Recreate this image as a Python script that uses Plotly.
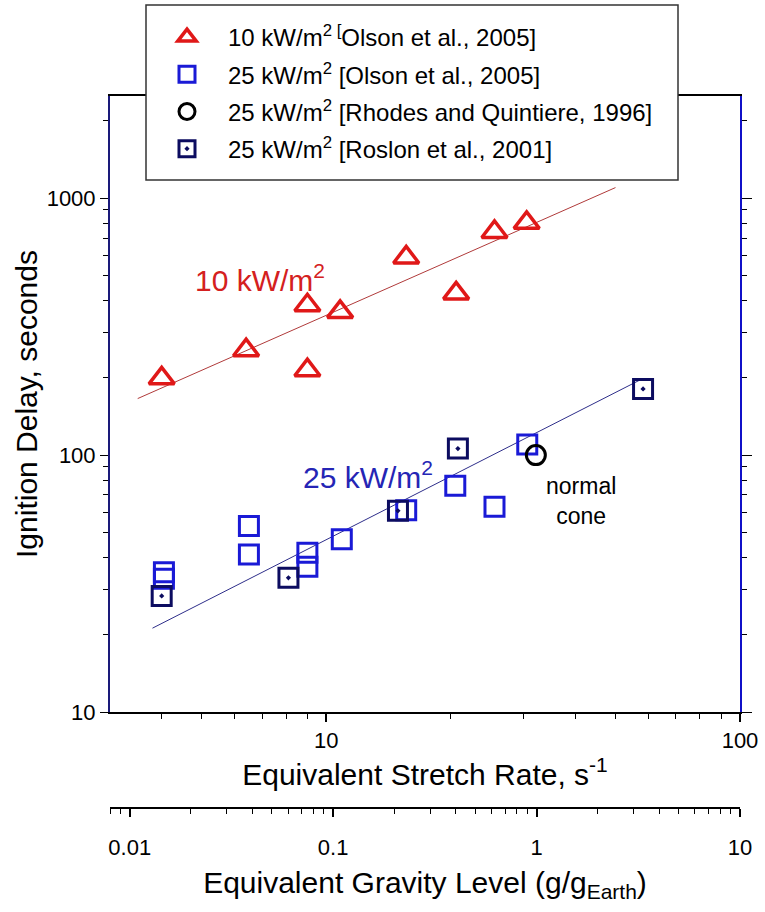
import numpy as np
import plotly.graph_objects as go

# ---------------- data ----------------
# 10 kW/m2 [Olson et al., 2005]
olson10_rate = [4.0, 6.4, 9.0, 9.0, 10.8, 15.6, 20.6, 25.5, 30.5]
olson10_delay = [199, 256, 383, 214, 361, 588, 426, 739, 802]

# 25 kW/m2 [Olson et al., 2005]
olson25_rate = [4.05, 4.05, 6.5, 6.5, 9.0, 9.0, 10.9, 15.6, 20.5, 25.5, 30.6]
olson25_delay = [35, 33, 53, 41, 41.7, 36.8, 47, 61, 76, 63, 110]

# 25 kW/m2 [Rhodes and Quintiere, 1996]
rhodes_rate = [32.1]
rhodes_delay = [100]

# 25 kW/m2 [Roslon et al., 2001]
roslon_rate = [4.0, 8.1, 14.9, 20.8, 58.3]
roslon_delay = [28.3, 33.3, 60.7, 106, 181]

# power-law fit lines (end points)
fit10_rate = [3.5, 50.0]
fit10_delay = [166, 1100]
fit25_rate = [3.8, 58.0]
fit25_delay = [21.2, 198]

# axis ticks
rate_ticks = [10, 100]
rate_minor = [4, 5, 6, 7, 8, 9, 20, 30, 40, 50, 60, 70, 80, 90]
delay_ticks = [10, 100, 1000]
delay_minor = [20, 30, 40, 50, 60, 70, 80, 90, 200, 300, 400, 500, 600, 700, 800, 900, 2000]
grav_ticks = [0.01, 0.1, 1, 10]
grav_labels = ["0.01", "0.1", "1", "10"]
grav_minor = [0.008, 0.009, 0.02, 0.03, 0.04, 0.05, 0.06, 0.07, 0.08, 0.09,
              0.2, 0.3, 0.4, 0.5, 0.6, 0.7, 0.8, 0.9, 2, 3, 4, 5, 6, 7, 8, 9]

rate_range = [3, 100]
delay_range = [10, 2500]
grav_range = [0.008, 10]

FONT = "Arial, Liberation Sans, sans-serif"
RED = "#e01818"
BLUE = "#1a1ad6"
NAVY = "#0c0c60"

fig = go.Figure()

fig.add_trace(go.Scatter(x=fit10_rate, y=fit10_delay, mode="lines",
                         line=dict(color="#b03a3a", width=1),
                         showlegend=False, hoverinfo="skip"))
fig.add_trace(go.Scatter(x=fit25_rate, y=fit25_delay, mode="lines",
                         line=dict(color="#2e2e8a", width=1),
                         showlegend=False, hoverinfo="skip"))

fig.add_trace(go.Scatter(
    x=olson10_rate, y=olson10_delay, mode="markers",
    name="10 kW/m<sup>2 [</sup>Olson et al., 2005]", legendgroup="a",
    marker=dict(symbol="triangle-up-open", size=22, color=RED,
                line=dict(width=3.5, color=RED))))
fig.add_trace(go.Scatter(
    x=olson25_rate, y=olson25_delay, mode="markers",
    name="25 kW/m<sup>2</sup> [Olson et al., 2005]", legendgroup="b",
    marker=dict(symbol="square-open", size=19, color=BLUE,
                line=dict(width=3, color=BLUE))))
fig.add_trace(go.Scatter(
    x=rhodes_rate, y=rhodes_delay, mode="markers",
    name="25 kW/m<sup>2</sup> [Rhodes and Quintiere, 1996]", legendgroup="c",
    marker=dict(symbol="circle-open", size=19, color="black",
                line=dict(width=3, color="black"))))
fig.add_trace(go.Scatter(
    x=roslon_rate, y=roslon_delay, mode="markers",
    name="25 kW/m<sup>2</sup> [Roslon et al., 2001]", legendgroup="d",
    marker=dict(symbol="square-open-dot", size=19, color=NAVY,
                line=dict(width=3, color=NAVY))))

# invisible helpers so the secondary axes (gravity scale, right frame) are built
fig.add_trace(go.Scatter(x=grav_range, y=delay_range, xaxis="x2", yaxis="y",
                         mode="markers", marker=dict(opacity=0),
                         showlegend=False, hoverinfo="skip"))
fig.add_trace(go.Scatter(x=rate_range, y=delay_range, xaxis="x", yaxis="y3",
                         mode="markers", marker=dict(opacity=0),
                         showlegend=False, hoverinfo="skip"))

W, H = 765, 912
ml, mr, mt, mb = 110, 25, 96, 52
ph = H - mt - mb
paper_bottom = H - mb


def py(pix):
    return (paper_bottom - pix) / ph


def px(pix):
    return (pix - ml) / (W - ml - mr)


tickfont = dict(family=FONT, size=22, color="black")
titlefont = dict(family=FONT, size=30, color="black")

fig.update_layout(
    width=W, height=H,
    margin=dict(l=ml, r=mr, t=mt, b=mb, autoexpand=False),
    paper_bgcolor="white", plot_bgcolor="white",
    font=dict(family=FONT, color="black"),
    xaxis=dict(
        type="log", range=[np.log10(rate_range[0]), np.log10(rate_range[1])],
        domain=[0, 1], anchor="y",
        showline=True, linecolor="black", linewidth=1.5, mirror=True,
        showgrid=False, zeroline=False,
        ticks="outside", ticklen=8, tickwidth=1.5, tickcolor="black",
        tickmode="array", tickvals=rate_ticks, ticktext=[str(v) for v in rate_ticks],
        tickfont=tickfont,
        minor=dict(tickmode="array", tickvals=rate_minor, ticks="outside",
                   ticklen=5, tickwidth=1.2, tickcolor="black", showgrid=False),
        title=dict(text="Equivalent Stretch Rate, s<sup>-1</sup>", font=titlefont,
                   standoff=4),
    ),
    yaxis=dict(
        type="log", range=[np.log10(delay_range[0]), np.log10(delay_range[1])],
        domain=[py(712), 1], anchor="x",
        showline=True, linecolor="#1a1a7a", linewidth=2,
        showgrid=False, zeroline=False,
        ticks="outside", ticklen=8, tickwidth=1.2, tickcolor="black",
        tickmode="array", tickvals=delay_ticks, ticktext=[str(v) for v in delay_ticks],
        tickfont=tickfont, ticklabelstandoff=0,
        minor=dict(tickmode="array", tickvals=delay_minor, ticks="outside",
                   ticklen=5, tickwidth=1.2, tickcolor="black", showgrid=False),
        title=dict(text="Ignition Delay, seconds", font=titlefont, standoff=0),
    ),
    yaxis3=dict(
        type="log", range=[np.log10(delay_range[0]), np.log10(delay_range[1])],
        overlaying="y", side="right", anchor="x",
        showline=True, linecolor="#1010c8", linewidth=2,
        showgrid=False, zeroline=False, showticklabels=False,
        ticks="outside", ticklen=10, tickwidth=1.2, tickcolor="black",
        tickmode="array", tickvals=delay_ticks,
        minor=dict(tickmode="array", tickvals=delay_minor, ticks="outside",
                   ticklen=5, tickwidth=1.2, tickcolor="black", showgrid=False),
    ),
    xaxis2=dict(
        type="log", range=[np.log10(grav_range[0]), np.log10(grav_range[1])],
        overlaying="x", anchor="free", position=py(808), side="bottom",
        showline=True, linecolor="black", linewidth=1.5,
        showgrid=False, zeroline=False,
        ticks="outside", ticklen=8, tickwidth=1.5, tickcolor="black",
        tickmode="array", tickvals=grav_ticks, ticktext=grav_labels,
        tickfont=tickfont, ticklabelstandoff=12,
        minor=dict(tickmode="array", tickvals=grav_minor, ticks="outside",
                   ticklen=5, tickwidth=1.2, tickcolor="black", showgrid=False),
        title=dict(text="Equivalent Gravity Level (g/g<sub>Earth</sub>)", font=titlefont,
                   standoff=12),
    ),
    legend=dict(
        x=px(146), y=py(15), xanchor="left", yanchor="top",
        bgcolor="rgba(0,0,0,0)", borderwidth=0,
        font=dict(family=FONT, size=24, color="black"),
        itemwidth=72, tracegroupgap=3, traceorder="grouped",
    ),
    shapes=[dict(type="rect", xref="paper", yref="paper",
                 x0=px(146), x1=px(678), y0=py(180), y1=py(5),
                 line=dict(color="#333333", width=1.5), fillcolor="white",
                 layer="above")],
    annotations=[
        dict(x=np.log10(6.9), y=np.log10(489), xref="x", yref="y",
             text="10 kW/m<sup>2</sup>", showarrow=False,
             font=dict(family=FONT, size=30, color="#d42020")),
        dict(x=np.log10(12.6), y=np.log10(83.6), xref="x", yref="y",
             text="25 kW/m<sup>2</sup>", showarrow=False,
             font=dict(family=FONT, size=30, color="#2525b5")),
        dict(x=np.log10(41.3), y=np.log10(66.2), xref="x", yref="y",
             text="normal<br>cone", showarrow=False,
             font=dict(family=FONT, size=23, color="black")),
    ],
)

fig.write_html("out.html")
